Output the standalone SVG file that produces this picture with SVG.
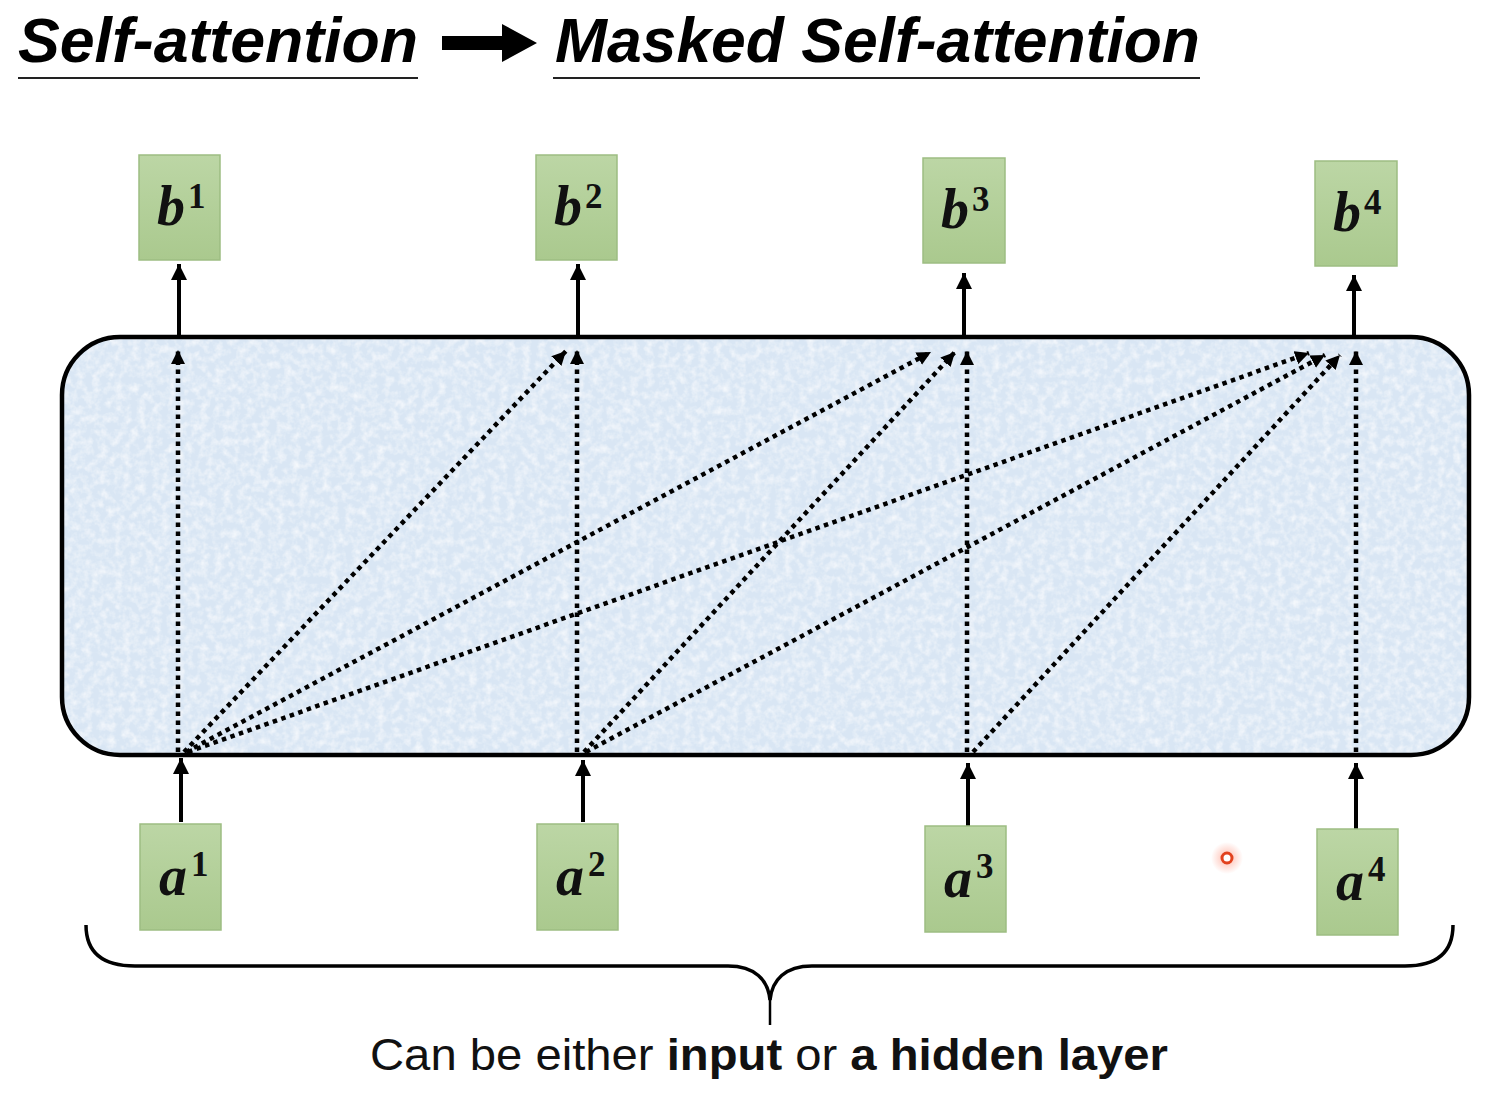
<svg xmlns="http://www.w3.org/2000/svg" width="1500" height="1108" viewBox="0 0 1500 1108">
<style>
.title{font-family:"Liberation Sans",Arial,sans-serif;font-weight:bold;font-style:italic;font-size:63px;fill:#000}
.box{fill:url(#g);stroke:#9dbd82;stroke-width:1.5}
.v{font-family:"Liberation Serif","DejaVu Serif",serif;font-weight:bold;font-style:italic;font-size:56px;fill:#111}
.sup{font-family:"Liberation Serif","DejaVu Serif",serif;font-weight:bold;font-size:35px;fill:#111}
.dot{fill:none;stroke:#000;stroke-width:4.5;stroke-dasharray:4.5 4.5;marker-end:url(#dh)}
.sol{fill:none;stroke:#000;stroke-width:4;marker-end:url(#sh)}
.cap{font-family:"Liberation Sans",Arial,sans-serif;font-size:44px;fill:#111}
</style>
<defs>
<linearGradient id="g" x1="0" y1="0" x2="0" y2="1"><stop offset="0" stop-color="#bcd6a5"/><stop offset="1" stop-color="#aac98e"/></linearGradient>
<marker id="dh" markerUnits="userSpaceOnUse" markerWidth="16" markerHeight="16" refX="14" refY="7" orient="auto"><path d="M0,0 L14,7 L0,14 z" fill="#000"/></marker>
<marker id="sh" markerUnits="userSpaceOnUse" markerWidth="18" markerHeight="18" refX="16" refY="8" orient="auto"><path d="M0,0 L16,8 L0,16 z" fill="#000"/></marker>
<filter id="tex" x="0" y="0" width="1" height="1">
<feTurbulence type="fractalNoise" baseFrequency="0.13" numOctaves="3" seed="4" result="n"/>
<feColorMatrix in="n" type="matrix" values="0 0 0 0 1  0 0 0 0 1  0 0 0 0 1  0 0 0 -1.3 0.8" result="w"/>
<feComposite in="w" in2="SourceGraphic" operator="in" result="wc"/>
<feMerge><feMergeNode in="SourceGraphic"/><feMergeNode in="wc"/></feMerge>
</filter>
<radialGradient id="glow"><stop offset="0" stop-color="#ff6040" stop-opacity="0.45"/><stop offset="1" stop-color="#ff6040" stop-opacity="0"/></radialGradient>
</defs>
<rect width="1500" height="1108" fill="#fff"/>

<g id="title">
<text class="title" x="18" y="62" textLength="400" lengthAdjust="spacingAndGlyphs">Self-attention</text>
<line x1="18" y1="78" x2="418" y2="78" stroke="#222" stroke-width="2"/>
<path d="M442,36 L502,36 L502,24 L537,43 L502,62 L502,50 L442,50 z" fill="#000"/>
<text class="title" x="555" y="62" textLength="645" lengthAdjust="spacingAndGlyphs">Masked Self-attention</text>
<line x1="553" y1="78" x2="1200" y2="78" stroke="#222" stroke-width="2"/>
</g>

<g id="layer">
<rect x="62" y="337" width="1407" height="418" rx="58" ry="58" fill="#d9e6f4" filter="url(#tex)"/>
<rect x="62" y="337" width="1407" height="418" rx="58" ry="58" fill="none" stroke="#000" stroke-width="4.5"/>
</g>

<g id="connectors">
<line class="sol" x1="179" y1="335" x2="179" y2="264"/>
<line class="sol" x1="578" y1="335" x2="578" y2="264"/>
<line class="sol" x1="964" y1="335" x2="964" y2="273"/>
<line class="sol" x1="1354" y1="335" x2="1354" y2="275"/>
<line class="sol" x1="181" y1="822" x2="181" y2="758"/>
<line class="sol" x1="583" y1="822" x2="583" y2="760"/>
<line class="sol" x1="968" y1="826" x2="968" y2="763"/>
<line class="sol" x1="1356" y1="829" x2="1356" y2="763"/>

<line class="dot" x1="178" y1="752" x2="178" y2="350"/>
<line class="dot" x1="577" y1="752" x2="577" y2="350"/>
<line class="dot" x1="967" y1="752" x2="967" y2="351"/>
<line class="dot" x1="1356" y1="752" x2="1356" y2="351"/>
<line class="dot" x1="184" y1="752" x2="566" y2="351"/>
<line class="dot" x1="186" y1="752" x2="931" y2="352"/>
<line class="dot" x1="188" y1="752" x2="1309" y2="353"/>
<line class="dot" x1="584" y1="752" x2="955" y2="352"/>
<line class="dot" x1="586" y1="752" x2="1325" y2="355"/>
<line class="dot" x1="973" y1="752" x2="1340" y2="355"/>
</g>

<g id="b1"><rect class="box" x="139" y="155" width="81" height="105"/><text class="v" x="157" y="225">b</text><text class="sup" x="188" y="208">1</text></g>
<g id="b2"><rect class="box" x="536" y="155" width="81" height="105"/><text class="v" x="554" y="225">b</text><text class="sup" x="585" y="208">2</text></g>
<g id="b3"><rect class="box" x="923" y="158" width="82" height="105"/><text class="v" x="941" y="228">b</text><text class="sup" x="972" y="211">3</text></g>
<g id="b4"><rect class="box" x="1315" y="161" width="82" height="105"/><text class="v" x="1333" y="231">b</text><text class="sup" x="1364" y="214">4</text></g>

<g id="a1"><rect class="box" x="140" y="824" width="81" height="106"/><text class="v" x="159" y="895">a</text><text class="sup" x="191" y="876">1</text></g>
<g id="a2"><rect class="box" x="537" y="824" width="81" height="106"/><text class="v" x="556" y="895">a</text><text class="sup" x="588" y="876">2</text></g>
<g id="a3"><rect class="box" x="925" y="826" width="81" height="106"/><text class="v" x="944" y="897">a</text><text class="sup" x="976" y="878">3</text></g>
<g id="a4"><rect class="box" x="1317" y="829" width="81" height="106"/><text class="v" x="1336" y="900">a</text><text class="sup" x="1368" y="881">4</text></g>

<g id="brace">
<path d="M86,925 C86,950 100,966 135,966 L728,966 C755,966 768,980 770,1000 C772,980 785,966 812,966 L1405,966 C1440,966 1453,950 1453,925" fill="none" stroke="#000" stroke-width="3.5"/>
<line x1="770" y1="995" x2="770" y2="1025" stroke="#000" stroke-width="2.5"/>
</g>

<g id="caption">
<text class="cap" x="370" y="1070" textLength="798" lengthAdjust="spacingAndGlyphs">Can be either <tspan font-weight="bold">input</tspan> or <tspan font-weight="bold">a hidden layer</tspan></text>
</g>

<g id="cursor">
<circle cx="1227" cy="858" r="16" fill="url(#glow)"/>
<circle cx="1227" cy="858" r="5" fill="#fff" stroke="#e2421e" stroke-width="3"/>
</g>
</svg>
